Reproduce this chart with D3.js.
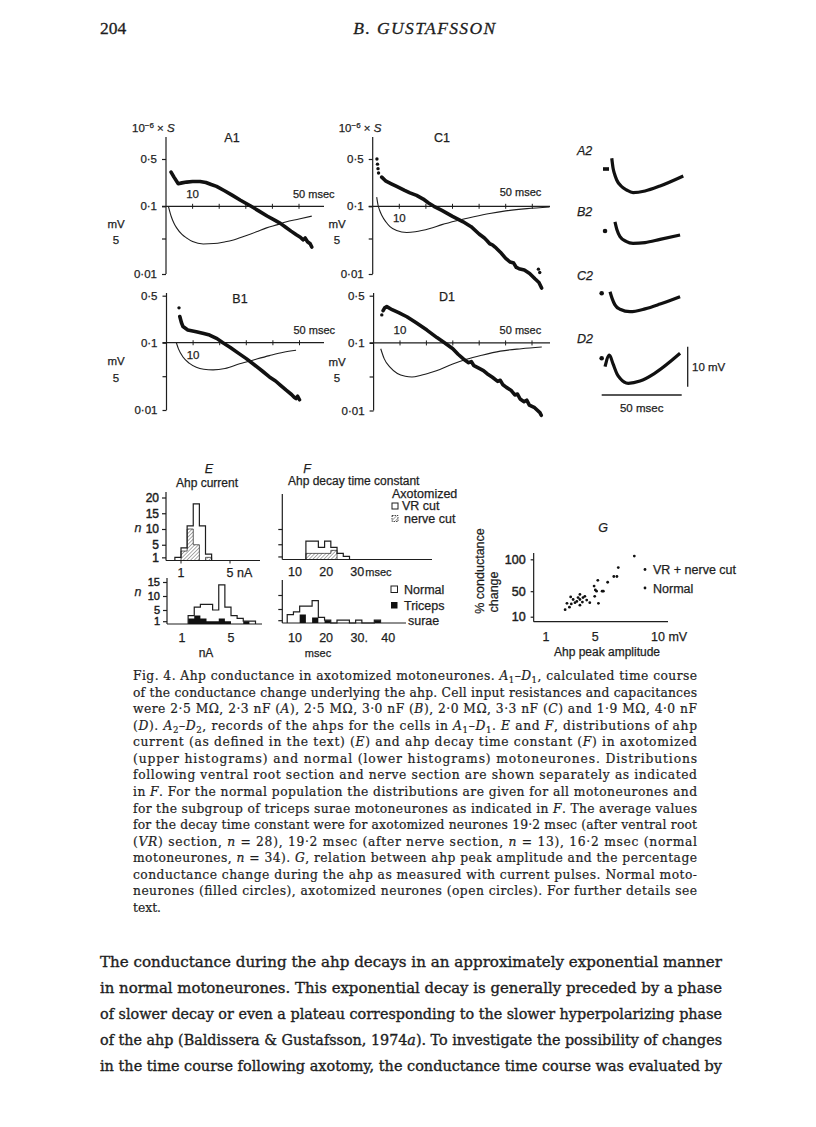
<!DOCTYPE html>
<html>
<head>
<meta charset="utf-8">
<script src="https://cdn.jsdelivr.net/npm/d3@7"></script>
<style>
body { margin: 0; background: #fff; }
svg text { font-family: "Liberation Sans", Arial, sans-serif; fill: #1e1e1e; stroke: #1e1e1e; stroke-width: 0.25px; }
svg text.serif { font-family: "DejaVu Serif", "Liberation Serif", serif; stroke-width: 0.2px; }
svg text.body { stroke-width: 0.35px; }
svg text.times { font-family: "Liberation Serif", "Times New Roman", serif; stroke-width: 0.3px; }
svg .tick text { stroke-width: 0.45px; }
</style>
</head>
<body>
<div id="page"></div>
<script>
// conductance time course A1-D1: [msec, 10^-6 S]
var condA1 = [[1.9,0.32],[3,0.27],[4.6,0.216],[6,0.222],[7.8,0.228],[10,0.232],[12.8,0.233],[15,0.225],[17,0.21],[19,0.197],[22,0.17],[25,0.145],[28,0.123],[30,0.111],[32,0.1],[35,0.085],[38,0.072],[41,0.062],[43,0.056],[45,0.049],[47,0.043],[49,0.038],[50.5,0.035],[51.5,0.032],[52.3,0.034],[53.2,0.03],[54.2,0.028],[54.8,0.025]];
var condB1 = [[5,0.245],[5.6,0.2],[6.2,0.174],[8,0.155],[11.2,0.146],[14,0.137],[16.2,0.13],[19,0.115],[21.2,0.1],[24,0.085],[27,0.07],[30,0.058],[33,0.047],[36,0.038],[38.7,0.031],[41,0.027],[43,0.023],[45,0.0197],[47,0.017],[48,0.0155],[48.7,0.0148],[49.3,0.016],[50,0.0142]];
var condC1 = [[3.4,0.27],[5,0.235],[7,0.215],[9,0.197],[12,0.172],[14,0.158],[16.5,0.145],[19,0.128],[21,0.112],[23,0.1],[26,0.087],[30,0.071],[34,0.059],[37,0.05],[40,0.039],[42,0.034],[43,0.031],[44,0.028],[45,0.027],[46,0.025],[48,0.021],[50,0.017],[51.7,0.015],[53,0.0145],[54,0.0125],[55,0.012],[57,0.0115],[59,0.0102],[61,0.0085],[62.5,0.0075],[63.5,0.0062]];
var condD1 = [[3.6,0.3],[4.2,0.33],[5,0.344],[7,0.31],[9.5,0.28],[12.6,0.244],[16,0.2],[20.2,0.155],[24,0.12],[27,0.1],[30,0.082],[32,0.068],[34,0.058],[36,0.051],[37,0.053],[38,0.046],[40,0.042],[41.6,0.039],[43,0.035],[45,0.031],[47,0.027],[48,0.028],[49,0.024],[50.3,0.022],[52,0.02],[53.5,0.017],[54.5,0.0175],[55.5,0.0148],[57,0.0135],[58,0.0142],[59,0.012],[61,0.011],[63,0.0093],[63.5,0.0085]];
// isolated first points drawn as dots
var dotsB1 = [[4.7,0.33]];
var dotsC1 = [[1.6,0.5],[1.8,0.42],[2.0,0.36],[2.2,0.31],[62.3,0.0118],[62.8,0.0105]];
var dotsD1 = [[3.1,0.26]];
// voltage (mV, hyperpolarizing downward) under each conductance curve
var voltA1 = [[0.9,0],[2,1.6],[3,2.6],[4,3.3],[6,4.3],[7.8,4.85],[10,5.4],[14,5.76],[18,5.7],[22,5.45],[25,5.2],[30,4.5],[34,3.9],[37.8,3.3],[42,2.8],[45,2.4],[50,1.95],[54.8,1.5]];
var voltB1 = [[3.7,0],[4.5,0.9],[6.2,2.1],[8.5,3.0],[11.2,3.6],[14,3.9],[17.5,4.0],[22,3.8],[27.5,3.1],[33,2.5],[38.7,1.9],[44,1.4],[48.7,1.1]];
var voltC1 = [[1.5,-1.4],[2,-0.2],[2.6,0.6],[3.4,1.36],[5,2.4],[6.5,3.1],[9,3.7],[12.8,4.0],[16,3.9],[21.5,3.4],[26,2.8],[31.5,2.2],[38,1.6],[44,1.1],[50,0.7],[58,0.35],[66.5,0.1]];
var voltD1 = [[2.7,0.85],[4,2.3],[6.3,3.6],[9,4.5],[12,4.9],[14.5,5.0],[18,4.75],[22,4.3],[25.1,3.9],[30,3.1],[35.2,2.4],[41,1.8],[48,1.2],[56,0.85],[63.7,0.6]];
var gTicks = [0.5, 0.1, 0.01];
var gTickLabels = ["0·5", "0·1", "0·01"];
var timeTicks = [10, 20, 30, 40, 50, 60];

// ahp records A2-D2: [msec, mV relative to baseline]
var recA2 = [[1.1,2.7],[1.9,0.25],[2.8,-1.2],[4.2,-2.75],[6.9,-4.25],[10.4,-5.25],[14.4,-5.9],[21.9,-5.5],[31.3,-4.25],[45.8,-1.75]];
var recB2 = [[3.1,2.3],[4.4,0.25],[6.25,-1.4],[10,-2.6],[14.4,-3.1],[21.9,-2.9],[31.3,-2.1],[43.8,-1.0]];
var recC2 = [[0,0.4],[1.25,-1.2],[3.1,-2.9],[6.25,-4.0],[12.5,-4.6],[21.9,-3.9],[31.3,-2.7],[43.8,-0.85]];
var recD2 = [[-3.1,-2.1],[-0.4,0.8],[1.9,-1.4],[4.4,-3.9],[6.25,-5.0],[11.4,-6.25],[18.75,-5.7],[28.1,-3.7],[43.8,1.25]];
var recDotT = [-2.5, -3.1, -5.2, -5.2];
var recNames = ["A2", "B2", "C2", "D2"];

// E: ahp current histograms (nA bins, 0.5 nA wide)
var eUpperBins = [0.5, 1.0, 1.5, 2.0, 2.5, 3.0];
var eUpperVR = [1, 4, 11, 18, 11, 2];
var eUpperNerve = [0, 3, 10, 5, 0, 1];
var eLowerBins = [1.5, 2.0, 2.5, 3.0, 3.5, 4.0, 4.5, 5.0, 5.5, 6.0, 6.5];
var eLowerAll = [3, 6, 7, 7, 5, 14, 6, 3, 2, 1, 1];
var eLowerTS = [2, 3, 2, 1, 1, 2, 1, 0, 0, 1, 0];
// F: ahp decay time constant histograms (msec bins, 2 msec wide)
var fUpperBins = [13.5, 15.5, 17.5, 19.5, 21.5, 23.5, 25.5];
var fUpperVR = [6, 6, 4, 6, 4, 2, 1];
var fUpperNerve = [2, 2, 2, 2, 3, 0, 0];
var fLowerBins = [7.5, 9.5, 11.5, 13.5, 15.5, 17.5, 19.5, 21.5, 23.5, 25.5, 27.5, 29.5, 31.5, 33.5, 35.5];
var fLowerAll = [3, 4, 6, 6, 8, 2, 1, 0, 1, 1, 0, 1, 0, 0, 1];
var fLowerTS = [0, 0, 3, 0, 2, 0, 1, 0, 0, 0, 0, 0, 0, 0, 1];

// G: ahp peak amplitude (mV) vs % conductance change
var gAxotomized = [[8.16,105],[6.86,87],[6.5,73],[6.75,73],[6.0,64],[5.2,67],[4.9,58],[5.65,50],[5.55,50],[5.0,52],[5.1,50],[4.95,42],[5.25,31],[4.55,32]];
var gNormal = [[4.15,42],[4.0,40],[4.3,36],[3.95,33],[3.75,45],[3.6,40],[3.75,37],[3.5,34],[3.35,32],[3.75,28],[3.2,37],[3.05,30],[2.7,31],[2.9,25],[2.55,21],[3.0,41]];

var captionLines = [
  "Fig. 4. Ahp conductance in axotomized motoneurones. {A}[1]–{D}[1], calculated time course",
  "of the conductance change underlying the ahp. Cell input resistances and capacitances",
  "were 2·5 MΩ, 2·3 nF ({A}), 2·5 MΩ, 3·0 nF ({B}), 2·0 MΩ, 3·3 nF ({C}) and 1·9 MΩ, 4·0 nF",
  "({D}). {A}[2]–{D}[2], records of the ahps for the cells in {A}[1]–{D}[1]. {E} and {F}, distributions of ahp",
  "current (as defined in the text) ({E}) and ahp decay time constant ({F}) in axotomized",
  "(upper histograms) and normal (lower histograms) motoneurones. Distributions",
  "following ventral root section and nerve section are shown separately as indicated",
  "in {F}. For the normal population the distributions are given for all motoneurones and",
  "for the subgroup of triceps surae motoneurones as indicated in {F}. The average values",
  "for the decay time constant were for axotomized neurones 19·2 msec (after ventral root",
  "({VR}) section, {n} = 28), 19·2 msec (after nerve section, {n} = 13), 16·2 msec (normal",
  "motoneurones, {n} = 34). {G}, relation between ahp peak amplitude and the percentage",
  "conductance change during the ahp as measured with current pulses. Normal moto-",
  "neurones (filled circles), axotomized neurones (open circles). For further details see",
  "text."
];
var bodyLines = [
  "The conductance during the ahp decays in an approximately exponential manner",
  "in normal motoneurones. This exponential decay is generally preceded by a phase",
  "of slower decay or even a plateau corresponding to the slower hyperpolarizing phase",
  "of the ahp (Baldissera & Gustafsson, 1974{a}). To investigate the possibility of changes",
  "in the time course following axotomy, the conductance time course was evaluated by"
];

var ink = "#1e1e1e";
var svg = d3.select("#page").append("svg")
  .attr("width", 816)
  .attr("height", 1127);
svg.append("rect").attr("width", 816).attr("height", 1127).attr("fill", "#fff");

var defs = svg.append("defs");
var pat = defs.append("pattern")
  .attr("id", "hatch")
  .attr("patternUnits", "userSpaceOnUse")
  .attr("width", 2.6).attr("height", 2.6)
  .attr("patternTransform", "rotate(45)");
pat.append("line").attr("x1", 0).attr("y1", 0).attr("x2", 0).attr("y2", 2.6)
  .attr("stroke", "#444").attr("stroke-width", 0.9);

function txt(parent, x, y, s, size, anchor) {
  return parent.append("text")
    .attr("x", x).attr("y", y)
    .attr("font-size", size || 11.5)
    .attr("text-anchor", anchor || "start")
    .text(s);
}
function hline(parent, x1, x2, y, w) {
  parent.append("line").attr("x1", x1).attr("x2", x2).attr("y1", y).attr("y2", y)
    .attr("stroke", ink).attr("stroke-width", w || 1.2);
}
function vline(parent, x, y1, y2, w) {
  parent.append("line").attr("x1", x).attr("x2", x).attr("y1", y1).attr("y2", y2)
    .attr("stroke", ink).attr("stroke-width", w || 1.2);
}

// page header
svg.append("text").attr("class", "times").attr("x", 100).attr("y", 34).attr("font-size", 17.5).text("204");
svg.append("text").attr("class", "times").attr("x", 425).attr("y", 34).attr("font-size", 17.5)
  .attr("text-anchor", "middle").attr("font-style", "italic").attr("letter-spacing", 1.4).text("B. GUSTAFSSON");

// ---- A1-D1 conductance panels ----
var condPanels = [
  {name: "A1", cond: condA1, dots: [], volt: voltA1, x0: 166, x50: 299, y05: 159, y001: 274, y5: 239, top: 137, xEnd: 324, tenAbove: true, titleX: 232, titleY: 142, labY: 198, mvX: 116, unit: true},
  {name: "C1", cond: condC1, dots: dotsC1, volt: voltC1, x0: 372.7, x50: 505.7, y05: 159, y001: 274, y5: 239, top: 137, xEnd: 550, tenAbove: false, titleX: 442, titleY: 142, labY: 196, mvX: 337, unit: true},
  {name: "B1", cond: condB1, dots: dotsB1, volt: voltB1, x0: 166.5, x50: 299.5, y05: 295.7, y001: 410, y5: 376.7, top: 293, xEnd: 324, tenAbove: false, titleX: 240, titleY: 303, labY: 334, mvX: 116, unit: false},
  {name: "D1", cond: condD1, dots: dotsD1, volt: voltD1, x0: 373.6, x50: 505.6, y05: 295.7, y001: 410.5, y5: 377, top: 293, xEnd: 550, tenAbove: true, titleX: 447, titleY: 301, labY: 334, mvX: 337, unit: false}
];

condPanels.forEach(function(p) {
  var x = d3.scaleLinear().domain([0, 50]).range([p.x0, p.x50]);
  var yG = d3.scaleLog().domain([0.01, 0.5]).range([p.y001, p.y05]);
  var yV = d3.scaleLinear().domain([0, 5]).range([yG(0.1), p.y5]);
  var g = svg.append("g");

  vline(g, p.x0, p.top, p.y001);
  g.append("g")
    .attr("transform", `translate(${p.x0},0)`)
    .call(d3.axisLeft(yG).tickValues(gTicks).tickFormat(function(d, i) { return gTickLabels[i]; }).tickSize(4).tickPadding(5))
    .call(function(s) {
      s.select(".domain").remove();
      s.attr("font-size", 11.5);
      s.selectAll("text").style("stroke-width", "0.25px");
      s.selectAll("line").attr("stroke", ink).attr("stroke-width", 1.2);
    });
  // 5 mV tick
  hline(g, p.x0 - 4, p.x0, yV(5));

  // time axis on the 0.1 line
  var y01 = yG(0.1);
  hline(g, p.x0 - 4, p.xEnd, y01);
  timeTicks.forEach(function(t) {
    if (x(t) < p.xEnd - 2) vline(g, x(t), y01 - 2.5, y01 + 2.5, 1);
  });
  txt(g, x(10), p.tenAbove ? p.labY : y01 + 16, "10", 11.5, "middle");
  txt(g, x(50) - 6, p.labY, "50 msec", 11);
  txt(g, p.titleX, p.titleY, p.name, 12.5, "middle");
  txt(g, p.mvX, yV(5) - 11.5, "mV", 11.5, "middle");
  txt(g, p.mvX, yV(5) + 5, "5", 11.5, "middle");
  if (p.unit) {
    var u = txt(g, p.x0 - 34, 132, "", 11.5);
    u.append("tspan").text("10");
    u.append("tspan").attr("dy", -4).attr("font-size", 8).text("−6");
    u.append("tspan").attr("dy", 4).text(" × ");
    u.append("tspan").attr("font-style", "italic").text("S");
  }

  // thin line: membrane potential
  g.append("path")
    .attr("d", d3.line().x(function(d) { return x(d[0]); }).y(function(d) { return yV(d[1]); }).curve(d3.curveMonotoneX)(p.volt))
    .attr("fill", "none").attr("stroke", ink).attr("stroke-width", 1.1);
  // thick line: conductance
  g.append("path")
    .attr("d", d3.line().x(function(d) { return x(d[0]); }).y(function(d) { return yG(d[1]); })(p.cond))
    .attr("fill", "none").attr("stroke", "#111").attr("stroke-width", 3.6)
    .attr("stroke-linejoin", "round").attr("stroke-linecap", "round");
  g.selectAll("circle.d").data(p.dots).enter().append("circle")
    .attr("cx", function(d) { return x(d[0]); })
    .attr("cy", function(d) { return yG(d[1]); })
    .attr("r", 1.7).attr("fill", "#111");
});

// ---- A2-D2 ahp records ----
var recX = d3.scaleLinear().domain([0, 50]).range([610, 690]);
var recY = d3.scaleLinear().domain([0, 10]).range([0, -40]);
var recs = [recA2, recB2, recC2, recD2];
var recBase = [169, 231, 293.3, 358.3];
var recLabelY = [155, 216, 280, 343];
recs.forEach(function(r, i) {
  var g = svg.append("g").attr("transform", `translate(0,${recBase[i]})`);
  txt(svg, 577, recLabelY[i], recNames[i], 12.5).attr("font-style", "italic");
  g.append("path")
    .attr("d", d3.line().x(function(d) { return recX(d[0]); }).y(function(d) { return recY(d[1]); }).curve(d3.curveMonotoneX)(r))
    .attr("fill", "none").attr("stroke", "#111").attr("stroke-width", 3.2)
    .attr("stroke-linejoin", "round");
  if (i === 0) {
    g.append("rect").attr("x", recX(recDotT[i]) - 3).attr("y", -1.8).attr("width", 6).attr("height", 3.6).attr("fill", "#111");
  } else {
    g.append("circle").attr("cx", recX(recDotT[i])).attr("cy", 0).attr("r", 2.3).attr("fill", "#111");
  }
});
// calibration bars
var barG = svg.append("g");
vline(barG, 687.7, recBase[3] + recY(-7.1), recBase[3] + recY(2.9), 1.3);
txt(barG, 692, 371, "10 mV", 11.5);
hline(barG, 601.7, 601.7 + recX(50) - recX(0), 395, 1.3);
txt(barG, 641.7, 412, "50 msec", 11.5, "middle");

// ---- E and F histograms ----
function stepLine(bins, counts, w, x, y) {
  var pts = bins.map(function(b, i) { return [b, counts[i]]; });
  pts.unshift([bins[0], 0]);
  pts.push([bins[bins.length - 1] + w, 0]);
  return d3.line().x(function(d) { return x(d[0]); }).y(function(d) { return y(d[1]); }).curve(d3.curveStepAfter)(pts);
}
function stepArea(bins, counts, w, x, y) {
  var pts = bins.map(function(b, i) { return [b, counts[i]]; });
  pts.push([bins[bins.length - 1] + w, counts[counts.length - 1]]);
  return d3.area().x(function(d) { return x(d[0]); }).y0(y(0)).y1(function(d) { return y(d[1]); }).curve(d3.curveStepAfter)(pts);
}
function histAxes(g, y, xStart, xEnd, yTop, ticks, labelled, size) {
  vline(g, xStart, y(0), yTop);
  hline(g, xStart, xEnd, y(0));
  g.append("g")
    .attr("transform", `translate(${xStart},0)`)
    .call(d3.axisLeft(y).tickValues(ticks).tickSize(4).tickPadding(3).tickFormat(labelled ? d3.format("d") : ""))
    .call(function(s) {
      s.select(".domain").remove();
      s.attr("font-size", size || 12.5);
      s.selectAll("line").attr("stroke", ink).attr("stroke-width", 1.2);
    });
}

var hist = svg.append("g");
txt(hist, 209, 473, "E", 12.5, "middle").attr("font-style", "italic");
txt(hist, 207, 486.5, "Ahp current", 12, "middle");
txt(hist, 307, 473, "F", 12.5, "middle").attr("font-style", "italic");
txt(hist, 288, 485, "Ahp decay time constant", 12);

// E upper
var xEu = d3.scaleLinear().domain([1, 5]).range([181, 230]);
var yEu = d3.scaleLinear().domain([0, 20]).range([560.5, 497.5]);
histAxes(hist, yEu, 166, 260, 492, [1, 5, 10, 15, 20], true, 12);
hist.append("path").attr("d", stepArea(eUpperBins, eUpperNerve, 0.5, xEu, yEu)).attr("fill", "url(#hatch)").attr("stroke", ink).attr("stroke-width", 0.7);
hist.append("path").attr("d", stepLine(eUpperBins, eUpperVR, 0.5, xEu, yEu)).attr("fill", "none").attr("stroke", ink).attr("stroke-width", 1.2);
[1, 5].forEach(function(v) { vline(hist, xEu(v), yEu(0), yEu(0) + 3, 1); });
txt(hist, xEu(1), 577, "1", 12.5, "middle");
txt(hist, xEu(5) - 3.5, 577, "5 nA", 12.5);
txt(hist, 138, 532, "n", 12.5, "middle").attr("font-style", "italic");

// E lower
var xEl = d3.scaleLinear().domain([1, 5]).range([182, 231]);
var yEl = d3.scaleLinear().domain([0, 15]).range([624, 582]);
histAxes(hist, yEl, 167, 262, 578, [1, 5, 10, 15], true, 11);
hist.append("path").attr("d", stepArea(eLowerBins, eLowerTS, 0.5, xEl, yEl)).attr("fill", "#111");
hist.append("path").attr("d", stepLine(eLowerBins, eLowerAll, 0.5, xEl, yEl)).attr("fill", "none").attr("stroke", ink).attr("stroke-width", 1.2);
txt(hist, xEl(1), 642, "1", 12.5, "middle");
txt(hist, xEl(5), 642, "5", 12.5, "middle");
txt(hist, 206, 657, "nA", 12, "middle");
txt(hist, 138, 596, "n", 12.5, "middle").attr("font-style", "italic");

// F upper
var xFu = d3.scaleLinear().domain([10, 30]).range([295, 357.3]);
var yFu = d3.scaleLinear().domain([0, 10]).range([559.5, 529]);
histAxes(hist, yFu, 282.3, 432, 494, [1, 5, 10], false);
hist.append("path").attr("d", stepArea(fUpperBins, fUpperNerve, 2, xFu, yFu)).attr("fill", "url(#hatch)").attr("stroke", ink).attr("stroke-width", 0.7);
hist.append("path").attr("d", stepLine(fUpperBins, fUpperVR, 2, xFu, yFu)).attr("fill", "none").attr("stroke", ink).attr("stroke-width", 1.2);
txt(hist, xFu(10), 576, "10", 12.5, "middle");
txt(hist, xFu(20), 576, "20", 12.5, "middle");
txt(hist, xFu(30) - 7, 576, "30", 12.5);
txt(hist, xFu(30) + 8, 576, "msec", 11);
txt(hist, 392, 498, "Axotomized", 12.5);
hist.append("rect").attr("x", 392).attr("y", 503).attr("width", 6).attr("height", 6).attr("fill", "#fff").attr("stroke", ink).attr("stroke-width", 1);
txt(hist, 402, 510, "VR cut", 12.5);
hist.append("rect").attr("x", 392).attr("y", 515.5).attr("width", 6).attr("height", 6).attr("fill", "url(#hatch)").attr("stroke", ink).attr("stroke-width", 0.8).attr("stroke-dasharray", "1.5,1");
txt(hist, 404, 523, "nerve cut", 12.5);

// F lower
var xFl = d3.scaleLinear().domain([10, 40]).range([295, 388.3]);
var yFl = d3.scaleLinear().domain([0, 10]).range([623, 595]);
histAxes(hist, yFl, 282.3, 406, 580, [1, 5, 10], false);
hist.append("path").attr("d", stepArea(fLowerBins, fLowerTS, 2, xFl, yFl)).attr("fill", "#111");
hist.append("path").attr("d", stepLine(fLowerBins, fLowerAll, 2, xFl, yFl)).attr("fill", "none").attr("stroke", ink).attr("stroke-width", 1.2);
[10, 20, 30, 40].forEach(function(v) { txt(hist, xFl(v) + (v === 30 ? 2 : 0), 642, v === 30 ? "30." : String(v), 12.5, "middle"); });
txt(hist, 318, 657, "msec", 11, "middle");
hist.append("rect").attr("x", 391).attr("y", 586).attr("width", 6.5).attr("height", 6.5).attr("fill", "#fff").attr("stroke", ink).attr("stroke-width", 1);
txt(hist, 404, 594, "Normal", 12.5);
hist.append("rect").attr("x", 391).attr("y", 602).attr("width", 6.5).attr("height", 6.5).attr("fill", "#111");
txt(hist, 404, 610, "Triceps", 12.5);
txt(hist, 408, 624.5, "surae", 12.5);

// ---- G scatter ----
var gg = svg.append("g");
var xG = d3.scaleLinear().domain([1, 10]).range([546, 657]);
var yGs = d3.scaleLinear().domain([10, 100]).range([616.7, 559.3]);
txt(gg, 603, 532, "G", 12.5, "middle").attr("font-style", "italic");
vline(gg, xG(0), 553, 621.7);
hline(gg, xG(0), 668, 621.7);
gg.append("g")
  .attr("transform", `translate(${xG(0)},0)`)
  .call(d3.axisLeft(yGs).tickValues([10, 50, 100]).tickSize(3).tickPadding(5).tickFormat(d3.format("d")))
  .call(function(s) {
    s.select(".domain").remove();
    s.attr("font-size", 12.5);
    s.selectAll("line").attr("stroke", ink).attr("stroke-width", 1.2);
  });
txt(gg, xG(1), 641, "1", 12.5, "middle");
txt(gg, xG(5), 641, "5", 12.5, "middle");
txt(gg, xG(10) - 6, 641, "10 mV", 12.5);
txt(gg, 607, 656, "Ahp peak  amplitude", 12, "middle");
txt(gg, 0, 0, "% conductance", 12.5, "middle").attr("transform", "translate(484,571) rotate(-90)");
txt(gg, 0, 0, "change", 12.5, "middle").attr("transform", "translate(497.5,592) rotate(-90)");
gg.selectAll("circle.ax").data(gAxotomized).enter().append("circle")
  .attr("cx", function(d) { return xG(d[0]); }).attr("cy", function(d) { return yGs(d[1]); })
  .attr("r", 1.4).attr("fill", "#111");
gg.selectAll("circle.nm").data(gNormal).enter().append("circle")
  .attr("cx", function(d) { return xG(d[0]); }).attr("cy", function(d) { return yGs(d[1]); })
  .attr("r", 1.4).attr("fill", "#111");
gg.append("circle").attr("cx", 645).attr("cy", 569.5).attr("r", 1.4).attr("fill", "#111");
txt(gg, 653, 574, "VR + nerve cut", 12.5);
gg.append("circle").attr("cx", 645).attr("cy", 588).attr("r", 1.4).attr("fill", "#111");
txt(gg, 653, 592.5, "Normal", 12.5);

// ---- caption and body text ----
function richLine(parent, s, x, y, size, width, cls) {
  var t = parent.append("text").attr("class", cls).attr("x", x).attr("y", y).attr("font-size", size);
  var parts = s.split(/(\{[^}]*\}|\[[^\]]*\])/).filter(function(d) { return d.length; });
  var shift = 0;
  parts.forEach(function(part) {
    var sp = t.append("tspan");
    if (part[0] === "{") {
      sp.attr("font-style", "italic").text(part.slice(1, -1));
    } else if (part[0] === "[") {
      sp.attr("font-size", size * 0.7).text(part.slice(1, -1));
      sp.attr("dy", 3 - shift); shift = 3; return;
    } else {
      sp.text(part);
    }
    if (shift) { sp.attr("dy", -shift); shift = 0; }
  });
  if (width) {
    // justify: stretch spacing when short, otherwise scale the font down a little
    var natural = t.node().getComputedTextLength();
    if (natural > width) t.attr("font-size", size * width / natural);
    t.attr("textLength", width).attr("lengthAdjust", "spacing");
  }
  return t;
}
var cap = svg.append("g");
captionLines.forEach(function(line, i) {
  var last = i === captionLines.length - 1;
  richLine(cap, line, 133, 680 + i * 16.57, 12.3, last ? null : 564, "serif");
});
bodyLines.forEach(function(line, i) {
  richLine(cap, line, 100, 967 + i * 26, 15.5, 622, "serif body");
});
</script>
</body>
</html>
